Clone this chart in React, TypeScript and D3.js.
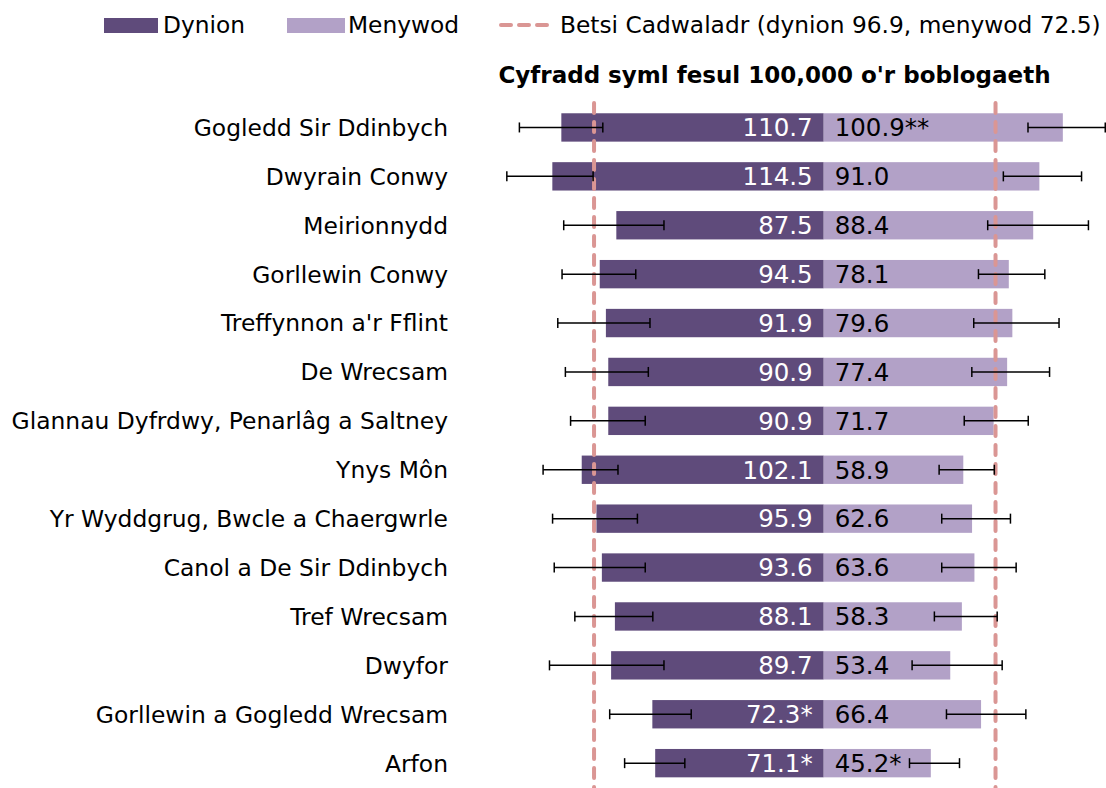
import React, { useRef, useEffect } from 'react';
import * as d3 from 'd3';

// Clusters (top to bottom)
const areas: string[] = [
    'Gogledd Sir Ddinbych', 'Dwyrain Conwy', 'Meirionnydd', 'Gorllewin Conwy',
    "Treffynnon a'r Fflint", 'De Wrecsam', 'Glannau Dyfrdwy, Penarlâg a Saltney',
    'Ynys Môn', 'Yr Wyddgrug, Bwcle a Chaergwrle', 'Canol a De Sir Ddinbych',
    'Tref Wrecsam', 'Dwyfor', 'Gorllewin a Gogledd Wrecsam', 'Arfon',
];

// Men (dynion)
const menRate: number[] = [110.7, 114.5, 87.5, 94.5, 91.9, 90.9, 90.9, 102.1, 95.9, 93.6, 88.1, 89.7, 72.3, 71.1];
const menFlag: string[] = ['', '', '', '', '', '', '', '', '', '', '', '', '*', '*'];
const menLow: number[] = [93.2, 97.3, 67.4, 79.3, 73.3, 74.0, 75.3, 86.8, 78.6, 75.3, 72.1, 67.4, 55.9, 58.6];
const menHigh: number[] = [128.4, 133.7, 109.7, 110.4, 112.2, 109.0, 106.8, 118.4, 114.4, 113.7, 105.0, 115.7, 90.3, 84.0];

// Women (menywod)
const womenRate: number[] = [100.9, 91.0, 88.4, 78.1, 79.6, 77.4, 71.7, 58.9, 62.6, 63.6, 58.3, 53.4, 66.4, 45.2];
const womenFlag: string[] = ['**', '', '', '', '', '', '', '', '', '', '', '', '', '*'];
const womenLow: number[] = [86.2, 75.8, 69.2, 65.3, 63.3, 62.5, 59.3, 48.7, 49.8, 49.8, 46.7, 37.3, 51.8, 36.2];
const womenHigh: number[] = [118.8, 108.8, 111.7, 93.3, 99.3, 95.3, 86.3, 72.0, 78.8, 81.2, 73.2, 75.3, 85.3, 57.3];

// Health board averages
const boardMen = 96.9;
const boardWomen = 72.5;

const DARK = '#5f4b7b';
const LIGHT = '#b2a1c7';
const REF = '#da9694';
const FONT = '"DejaVu Sans", Verdana, sans-serif';

const App: React.FC = () => {
    const svgRef = useRef<SVGSVGElement | null>(null);

    useEffect(() => {
        if (!svgRef.current) return;
        const svg = d3.select(svgRef.current);
        svg.selectAll('*').remove();

        const height = 788;
        const center = 823.7;
        const pxPerUnit = 2.37;

        const xMen = d3.scaleLinear().domain([0, 140]).range([center, center - 140 * pxPerUnit]);
        const xWomen = d3.scaleLinear().domain([0, 120]).range([center, center + 120 * pxPerUnit]);
        const y = d3.scaleBand<string>().domain(areas).range([103, 787.6]).paddingInner(0.42).paddingOuter(0.21);

        const rows = areas.map((a, i) => ({
            area: a,
            men: menRate[i], mFlag: menFlag[i], mLo: menLow[i], mHi: menHigh[i],
            women: womenRate[i], wFlag: womenFlag[i], wLo: womenLow[i], wHi: womenHigh[i],
        }));

        const g = svg.append('g');

        // bars
        g.selectAll('.men').data(rows).enter().append('rect')
            .attr('x', d => xMen(d.men))
            .attr('y', d => y(d.area) as number)
            .attr('width', d => xMen(0) - xMen(d.men))
            .attr('height', y.bandwidth())
            .attr('fill', DARK);

        g.selectAll('.women').data(rows).enter().append('rect')
            .attr('x', xWomen(0))
            .attr('y', d => y(d.area) as number)
            .attr('width', d => xWomen(d.women) - xWomen(0))
            .attr('height', y.bandwidth())
            .attr('fill', LIGHT);

        // reference lines
        const refs = [xMen(boardMen), xWomen(boardWomen)];
        g.selectAll('.ref').data(refs).enter().append('line')
            .attr('x1', d => d).attr('x2', d => d)
            .attr('y1', 103).attr('y2', height)
            .attr('stroke', REF)
            .attr('stroke-width', 4)
            .attr('stroke-linecap', 'round')
            .attr('stroke-dasharray', '10 9');

        // error bars
        const cap = 5;
        const errs = rows.flatMap(d => {
            const cy = (y(d.area) as number) + y.bandwidth() / 2;
            return [
                { cy, x1: xMen(d.mHi), x2: xMen(d.mLo) },
                { cy, x1: xWomen(d.wLo), x2: xWomen(d.wHi) },
            ];
        });
        const eg = g.selectAll('.err').data(errs).enter().append('g')
            .attr('stroke', '#000').attr('stroke-width', 1.5);
        eg.append('line').attr('x1', d => d.x1).attr('x2', d => d.x2).attr('y1', d => d.cy).attr('y2', d => d.cy);
        eg.append('line').attr('x1', d => d.x1).attr('x2', d => d.x1).attr('y1', d => d.cy - cap).attr('y2', d => d.cy + cap);
        eg.append('line').attr('x1', d => d.x2).attr('x2', d => d.x2).attr('y1', d => d.cy - cap).attr('y2', d => d.cy + cap);

        // value labels
        g.selectAll('.mlab').data(rows).enter().append('text')
            .attr('x', xMen(0) - 11)
            .attr('y', d => (y(d.area) as number) + y.bandwidth() / 2)
            .attr('dy', '0.36em')
            .attr('text-anchor', 'end')
            .attr('fill', '#fff')
            .style('font-size', '24.5px')
            .text(d => d.men.toFixed(1) + d.mFlag);

        g.selectAll('.wlab').data(rows).enter().append('text')
            .attr('x', xWomen(0) + 11)
            .attr('y', d => (y(d.area) as number) + y.bandwidth() / 2)
            .attr('dy', '0.36em')
            .attr('fill', '#000')
            .style('font-size', '24.5px')
            .text(d => d.women.toFixed(1) + d.wFlag);

        // category labels
        g.selectAll('.cat').data(rows).enter().append('text')
            .attr('x', 448)
            .attr('y', d => (y(d.area) as number) + y.bandwidth() / 2)
            .attr('dy', '0.36em')
            .attr('text-anchor', 'end')
            .attr('fill', '#000')
            .style('font-size', '23.4px')
            .text(d => d.area);

        // title
        svg.append('text')
            .attr('x', 774.5).attr('y', 75).attr('dy', '0.36em')
            .attr('text-anchor', 'middle')
            .style('font-size', '23px').style('font-weight', 'bold')
            .text("Cyfradd syml fesul 100,000 o'r boblogaeth");

        // legend
        const leg = svg.append('g').style('font-size', '23.3px');
        leg.append('rect').attr('x', 104).attr('y', 18).attr('width', 54).attr('height', 15).attr('fill', DARK);
        leg.append('text').attr('x', 163).attr('y', 25).attr('dy', '0.36em').text('Dynion');
        leg.append('rect').attr('x', 287).attr('y', 18).attr('width', 58).attr('height', 15).attr('fill', LIGHT);
        leg.append('text').attr('x', 348).attr('y', 25).attr('dy', '0.36em').text('Menywod');
        leg.append('line').attr('x1', 501).attr('x2', 547).attr('y1', 25).attr('y2', 25)
            .attr('stroke', REF).attr('stroke-width', 4).attr('stroke-linecap', 'round')
            .attr('stroke-dasharray', '10 8');
        leg.append('text').attr('x', 560).attr('y', 25).attr('dy', '0.36em')
            .text(`Betsi Cadwaladr (dynion ${boardMen}, menywod ${boardWomen})`);
    }, []);

    return (
        <svg ref={svgRef} width={1106} height={788}
            style={{ position: 'absolute', left: 0, top: 0, fontFamily: FONT }} />
    );
};

export default App;
